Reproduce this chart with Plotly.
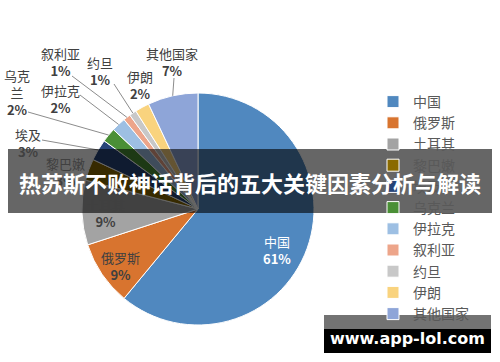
import math
import plotly.graph_objects as go

labels = ["中国", "俄罗斯", "土耳其", "黎巴嫩", "埃及", "乌克兰", "伊拉克", "叙利亚", "约旦", "伊朗", "其他国家"]
values = [61, 9, 9, 3, 3, 2, 2, 1, 1, 2, 7]
colors = ["#5088BF", "#D8742F", "#A3A3A3", "#8A6A00", "#264478", "#4A8F36",
          "#9DBFE3", "#EDA58A", "#C8C8C8", "#F9D37E", "#8EA5D8"]
title_text = "热苏斯不败神话背后的五大关键因素分析与解读"
watermark = "www.app-lol.com"

W, H = 500, 362
cx, cy, R = 198, 209, 116

def px(x):
    return x / W

def py(y):
    return 1 - y / H

fig = go.Figure()
fig.add_trace(go.Pie(
    labels=labels, values=values, sort=False, direction="clockwise", rotation=0,
    marker=dict(colors=colors, line=dict(color="white", width=1)),
    textinfo="none", hoverinfo="label+percent",
    domain=dict(x=[px(cx - R), px(cx + R)], y=[py(cy + R), py(cy - R)]),
))

# label layout: text centre (x, y), leader-line start (or None), text colour
label_pos = {
    "中国": (277, 250, None, "white"),
    "俄罗斯": (120, 266, None, "#404040"),
    "土耳其": (105, 213, None, "#404040"),
    "黎巴嫩": (65, 172, None, "#404040"),
    "埃及": (28, 143, (42, 140), "#404040"),
    "乌克兰": (17, 92, (28, 112), "#404040"),
    "伊拉克": (60, 99, (80, 95), "#404040"),
    "叙利亚": (60, 62, (72, 76), "#404040"),
    "约旦": (100, 71, (114, 84), "#404040"),
    "伊朗": (140, 85, None, "#404040"),
    "其他国家": (172, 62, (174, 78), "#404040"),
}

total = sum(values)
cum = 0
for lab, v in zip(labels, values):
    mid = (cum + v / 2) / total * 2 * math.pi
    cum += v
    tx, ty, start, col = label_pos[lab]
    name = lab
    if lab == "乌克兰":
        name = "乌克<br>兰"
    txt = f"{name}<br><b>{round(v / total * 100)}%</b>"
    fig.add_annotation(x=px(tx), y=py(ty), xref="paper", yref="paper", text=txt,
                       showarrow=False, font=dict(size=13, color=col, family="Noto Sans CJK SC"),
                       align="center", xanchor="center", yanchor="middle")
    if start is not None:
        ex = cx + R * math.sin(mid)
        ey = cy - R * math.cos(mid)
        fig.add_shape(type="line", xref="paper", yref="paper",
                      x0=px(start[0]), y0=py(start[1]), x1=px(ex), y1=py(ey),
                      line=dict(color="#8C8C8C", width=1))

# title band overlay
fig.add_shape(type="rect", xref="paper", yref="paper", x0=px(8), x1=px(492), y0=py(213), y1=py(149),
              fillcolor="rgba(0,0,0,0.6)", line=dict(width=0), layer="above")
fig.add_annotation(x=px(250), y=py(182), xref="paper", yref="paper", text=f"<b>{title_text}</b>",
                   showarrow=False, xanchor="center", yanchor="middle",
                   font=dict(size=22, color="white", family="Noto Sans CJK SC"))

# watermark
fig.add_shape(type="rect", xref="paper", yref="paper", x0=px(324), x1=px(491), y0=py(329), y1=py(315),
              fillcolor="rgba(0,0,0,0.55)", line=dict(width=0), layer="above")
fig.add_shape(type="rect", xref="paper", yref="paper", x0=px(324), x1=px(491), y0=py(353), y1=py(329),
              fillcolor="black", line=dict(width=0), layer="above")
fig.add_annotation(x=px(407), y=py(338), xref="paper", yref="paper", text=f"<b>{watermark}</b>",
                   showarrow=False, xanchor="center", yanchor="middle",
                   font=dict(size=16, color="white", family="DejaVu Sans"))

fig.update_layout(
    width=W, height=H, margin=dict(l=0, r=0, t=0, b=0),
    paper_bgcolor="white", plot_bgcolor="white",
    showlegend=True,
    legend=dict(x=px(373), y=py(86), xanchor="left", yanchor="top",
                font=dict(size=14, color="#595959", family="Noto Sans CJK SC"),
                bgcolor="rgba(0,0,0,0)"),
)

fig.write_html("out.html", config={"displayModeBar": False},
               post_script="document.body.style.margin='0';document.body.style.overflow='hidden';")
